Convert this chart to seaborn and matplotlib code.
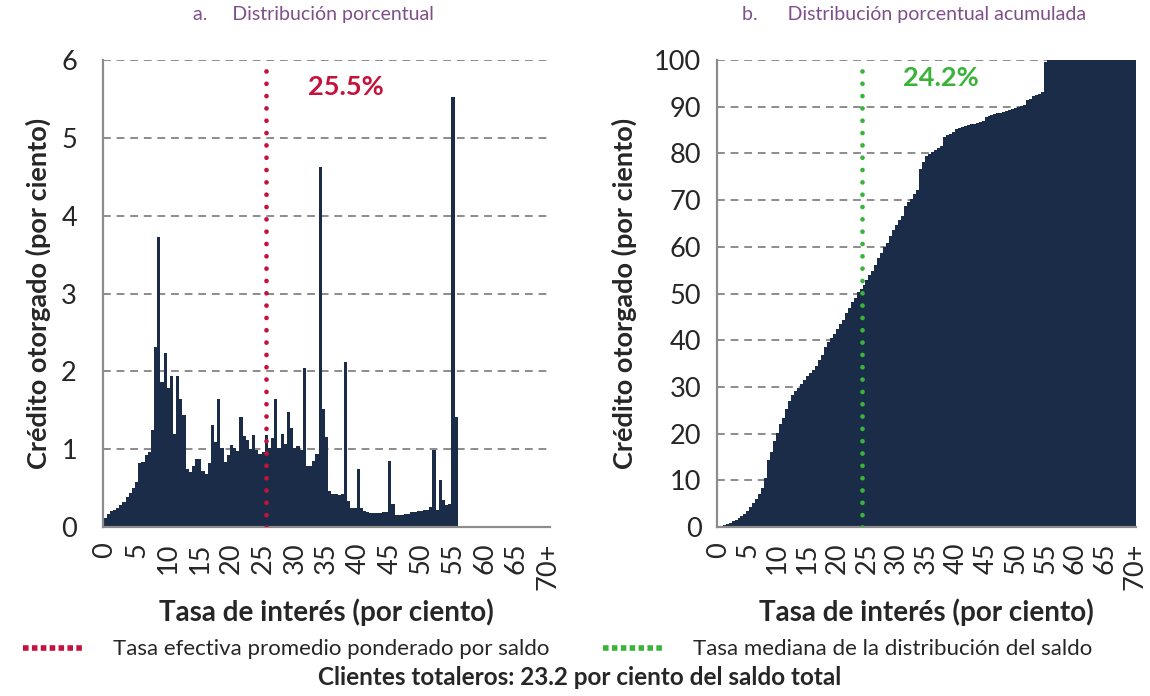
import numpy as np
import pandas as pd
import matplotlib
matplotlib.use("Agg")
import matplotlib.pyplot as plt
import seaborn as sns
from matplotlib.lines import Line2D

# ---------------- data ----------------
# interest-rate bins (per cent), 0.5-point steps, last bin = 70+
tasas = np.arange(0, 70.5, 0.5)

# a. distribution (per cent of credit) for bins 0 .. 55.5 ; bins above are empty
dist_pct = [
    0.12, 0.17, 0.20, 0.22, 0.25, 0.28, 0.32, 0.38, 0.44, 0.50,
    0.58, 0.82, 0.84, 0.93, 0.96, 1.24, 2.31, 3.73, 1.86, 2.23,
    1.78, 1.94, 1.20, 1.94, 1.64, 1.44, 0.74, 0.71, 0.79, 0.87,
    0.87, 0.72, 0.68, 0.82, 1.31, 1.09, 1.65, 1.02, 0.84, 0.92,
    1.06, 1.01, 0.98, 1.41, 1.17, 1.12, 1.00, 1.18, 0.99, 0.94,
    0.96, 1.18, 1.02, 1.14, 1.64, 1.02, 1.19, 1.07, 1.48, 1.27,
    1.01, 1.04, 0.99, 2.04, 0.79, 0.79, 0.85, 0.94, 4.62, 1.52,
    1.16, 0.46, 0.43, 0.42, 0.41, 0.43, 2.12, 0.33, 0.25, 0.25,
    0.74, 0.25, 0.21, 0.19, 0.18, 0.18, 0.18, 0.18, 0.19, 0.19,
    0.85, 0.30, 0.16, 0.15, 0.15, 0.17, 0.17, 0.19, 0.19, 0.20,
    0.20, 0.22, 0.22, 0.26, 0.99, 0.22, 0.60, 0.35, 0.28, 0.29,
    5.53, 1.41,
    0, 0, 0, 0, 0, 0, 0, 0, 0, 0, 0, 0, 0, 0, 0, 0, 0, 0, 0, 0,
    0, 0, 0, 0, 0, 0, 0, 0, 0,
]

# b. cumulative distribution (per cent)
acum_pct = [
    0.12, 0.29, 0.49, 0.71, 0.96, 1.24, 1.56, 1.94, 2.38, 2.88,
    3.46, 4.28, 5.12, 6.05, 7.01, 8.25, 10.56, 14.29, 16.15, 18.38,
    20.16, 22.10, 23.30, 25.24, 26.88, 28.32, 29.06, 29.77, 30.56, 31.43,
    32.30, 33.02, 33.70, 34.52, 35.83, 36.92, 38.57, 39.59, 40.43, 41.35,
    42.41, 43.42, 44.40, 45.81, 46.98, 48.10, 49.10, 50.28, 51.0, 51.9,
    52.8, 53.9, 54.9, 56.0, 57.7, 58.7, 59.9, 60.9, 62.4, 63.7,
    64.7, 65.7, 66.7, 68.7, 69.5, 70.3, 71.2, 72.1, 76.7, 78.2,
    79.4, 79.8, 80.3, 80.7, 81.1, 81.5, 83.6, 84.0, 84.2, 84.5,
    85.2, 85.5, 85.7, 85.9, 86.0, 86.2, 86.4, 86.6, 86.8, 87.0,
    87.8, 88.1, 88.3, 88.4, 88.6, 88.7, 88.9, 89.1, 89.3, 89.5,
    89.7, 89.9, 90.1, 90.4, 91.4, 91.6, 92.2, 92.5, 92.8, 93.1,
    99.6, 100,
    100, 100, 100, 100, 100, 100, 100, 100, 100, 100, 100, 100, 100, 100, 100,
    100, 100, 100, 100, 100, 100, 100, 100, 100, 100, 100, 100, 100, 100,
]

tick_labels = ["0", "5", "10", "15", "20", "25", "30", "35", "40", "45",
               "50", "55", "60", "65", "70+"]
tasa_promedio = 25.5   # weighted average rate
tasa_mediana = 24.2    # median of balance distribution
totaleros = 23.2

titulo_a = "a.     Distribución porcentual"
titulo_b = "b.      Distribución porcentual acumulada"
ylab = "Crédito otorgado (por ciento)"
xlab = "Tasa de interés (por ciento)"
leg_a = "Tasa efectiva promedio ponderado por saldo"
leg_b = "Tasa mediana de la distribución del saldo"
nota = f"Clientes totaleros: {totaleros} por ciento del saldo total"

# ---------------- style ----------------
sns.set_style("white")
plt.rcParams["font.family"] = ["Lato", "DejaVu Sans"]

NAVY = "#1B2C48"
RED = "#C5123C"
GREEN = "#3BB33B"
PURPLE = "#7E4F8A"
GRID = "#8C8C8C"

df = pd.DataFrame({
    "tasa": [f"{t:g}" for t in tasas],
    "dist": dist_pct,
    "acum": acum_pct,
})
order = list(df["tasa"])
bin_w = tasas[1] - tasas[0]

fig = plt.figure(figsize=(11.5, 6.96), dpi=100)
ax1 = fig.add_axes([0.0899, 0.2428, 0.388, 0.671])
ax2 = fig.add_axes([0.6232, 0.2428, 0.3649, 0.671])

panels = [
    # ax, column, ylim, yticks, title, title x, vline, colour, label pos, ytick pad, ylabel pad
    (ax1, "dist", (0, 6), np.arange(0, 7, 1), titulo_a, 0.47, tasa_promedio, RED,
     (0.543, 0.942), 12, 7),
    (ax2, "acum", (0, 100), np.arange(0, 110, 10), titulo_b, 0.47, tasa_mediana, GREEN,
     (0.5346, 0.962), 4, 12.5),
]

for ax, col, ylim, yticks, title, tx, vline, vcol, txtpos, ypad, lpad in panels:
    sns.barplot(data=df, x="tasa", y=col, order=order, color=NAVY,
                width=1.0, linewidth=0, saturation=1, ax=ax, zorder=2)
    ax.set_xlim(-0.5, len(order) - 0.5)
    ax.set_ylim(*ylim)
    ax.set_yticks(yticks)
    ax.set_yticklabels([f"{v:g}" for v in yticks], fontsize=19.5)
    ax.yaxis.grid(True, linestyle=(0, (4, 3)), color=GRID, linewidth=1.4, zorder=0)
    ax.set_axisbelow(True)
    ax.xaxis.grid(False)

    # x ticks: label every 5 points, small tick at every bin
    major_pos = np.arange(0, len(order), 10)
    ax.set_xticks(major_pos)
    ax.set_xticklabels(tick_labels, rotation=90, fontsize=19.5)
    ax.set_xticks(np.arange(len(order)), minor=True)
    ax.tick_params(axis="x", which="both", direction="out", length=8,
                   width=0.8, color=GRID, pad=3)
    ax.tick_params(axis="y", which="major", direction="out", length=7,
                   width=1.2, color=GRID, pad=ypad)

    for s in ["top", "right"]:
        ax.spines[s].set_visible(False)
    for s in ["left", "bottom"]:
        ax.spines[s].set_color(GRID)
        ax.spines[s].set_linewidth(1.6)

    ax.set_xlabel(xlab, fontsize=20, fontweight="bold", labelpad=6)
    ax.set_ylabel(ylab, fontsize=19.5, fontweight="bold", labelpad=lpad)
    ax.set_title(title, color=PURPLE, fontsize=14, pad=29, x=tx)

    ax.axvline(vline / bin_w, color=vcol, linewidth=3.4,
               linestyle=(0, (0.01, 2.6)), dash_capstyle="round", zorder=3)
    ax.text(txtpos[0], txtpos[1], f"{vline}%", transform=ax.transAxes,
            color=vcol, fontsize=19.5, fontweight="bold", ha="center", va="center")

handles = [
    Line2D([], [], color=RED, linewidth=4, linestyle=(0, (1.0, 0.6))),
    Line2D([], [], color=GREEN, linewidth=4, linestyle=(0, (1.0, 0.6))),
]
fig.legend(handles, [leg_a, leg_b], loc="center", bbox_to_anchor=(0.485, 0.067),
           ncol=2, frameon=False, fontsize=16, handlelength=2.7,
           handletextpad=1.35, columnspacing=2.4)
fig.text(0.504, 0.027, nota, ha="center", va="center", fontsize=17.5,
         fontweight="bold")

fig.savefig("out.png", dpi=100)
